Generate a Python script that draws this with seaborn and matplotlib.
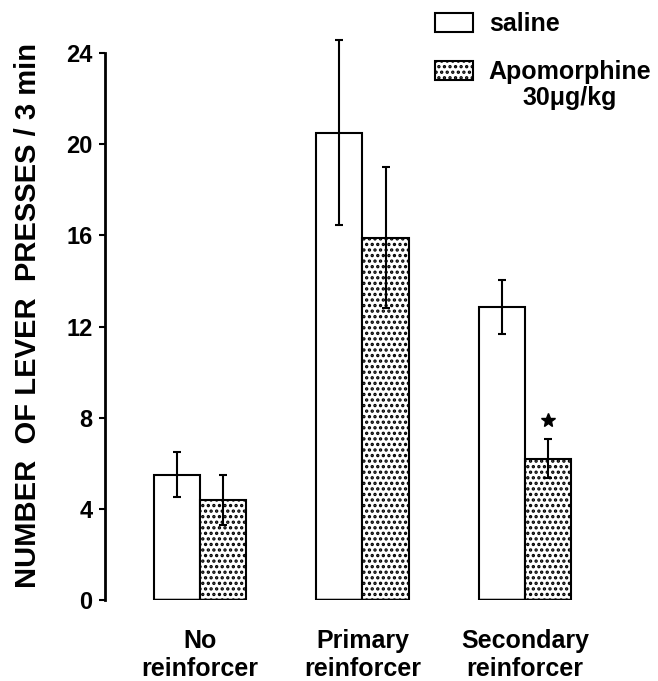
import matplotlib
matplotlib.use("Agg")
import matplotlib.pyplot as plt
import seaborn as sns
import pandas as pd
import numpy as np

# values
conditions = ["No\nreinforcer", "Primary\nreinforcer", "Secondary\nreinforcer"]
treatments = ["saline", "Apomorphine"]
dose_label = "30\u03bcg/kg"
saline_mean = [5.5, 20.5, 12.85]
saline_sem = [1.0, 4.05, 1.2]
apo_mean = [4.4, 15.9, 6.2]
apo_sem = [1.1, 3.1, 0.85]
star_y = 7.9

df = pd.DataFrame({
    "condition": conditions * 2,
    "treatment": [treatments[0]] * 3 + [treatments[1]] * 3,
    "presses": saline_mean + apo_mean,
    "sem": saline_sem + apo_sem,
})

sns.set_style("white")
plt.rcParams['font.family'] = ['Liberation Sans', 'DejaVu Sans']
plt.rcParams['font.weight'] = 'bold'
plt.rcParams['hatch.linewidth'] = 1.6
for k in ["text.color", "axes.labelcolor", "xtick.color", "ytick.color", "axes.edgecolor"]:
    plt.rcParams[k] = "black"

fig = plt.figure(figsize=(6.58, 6.81), dpi=100)
ax = fig.add_axes([105 / 658, 81 / 681, 553 / 658, 547 / 681])

sns.barplot(data=df, x="condition", y="presses", hue="treatment",
            palette=["white", "white"], edgecolor="black", linewidth=1.5,
            width=0.57, gap=0, errorbar=None, ax=ax)

# saline plain, apomorphine dotted
bars = ax.patches[:6]
for p in bars[3:]:
    p.set_hatch("...")
# error bars from bar centres
for p, s in zip(bars, saline_sem + apo_sem):
    xc = p.get_x() + p.get_width() / 2
    ax.errorbar(xc, p.get_height(), yerr=s, color="black", lw=1.5,
                capsize=3, capthick=1.5, fmt="none", clip_on=False)
    ax.plot([p.get_x(), p.get_x() + p.get_width()], [0, 0], color="black", lw=2.5,
            solid_capstyle="butt")

# significance star
p = bars[5]
ax.plot(p.get_x() + p.get_width() / 2, star_y, marker="*", ms=10, color="black")

ax.set_ylim(0, 24)
ax.set_xlim(-0.585, 2.82)
ax.set_yticks(range(0, 25, 4))
ax.tick_params(axis="y", direction="out", length=4, width=1.5, pad=5, labelsize=17, left=True)
ax.tick_params(axis="x", length=0, pad=21, labelsize=18)
for lab in ax.get_xticklabels() + ax.get_yticklabels():
    lab.set_fontweight("bold")
ax.set_xlabel("")
ax.set_ylabel("NUMBER  OF LEVER  PRESSES / 3 min", fontsize=21, fontweight="bold")
ax.yaxis.set_label_coords(-0.14, 0.52)
ax.yaxis.label.set_va("center")

sns.despine(ax=ax, bottom=True)
ax.spines["left"].set_linewidth(2)

leg = ax.legend(loc="upper left", bbox_to_anchor=(435 / 658, 1 - 12 / 681),
                bbox_transform=fig.transFigure, frameon=False, fontsize=18,
                handlelength=1.5, handleheight=0.8, handletextpad=0.65,
                labelspacing=0.95, borderpad=0, borderaxespad=0)
for t in leg.get_texts():
    t.set_fontweight("bold")
leg.legend_handles[1].set_hatch("...")
for h in leg.legend_handles:
    h.set_linewidth(1.5)

# dose line centred under "Apomorphine"
fig.canvas.draw()
bb = leg.get_texts()[1].get_window_extent()
fig.text((bb.x0 + bb.x1) / 2, bb.y0 - 2, dose_label, transform=None,
         ha="center", va="top", fontsize=18, fontweight="bold")

fig.savefig("out.png", dpi=100)
